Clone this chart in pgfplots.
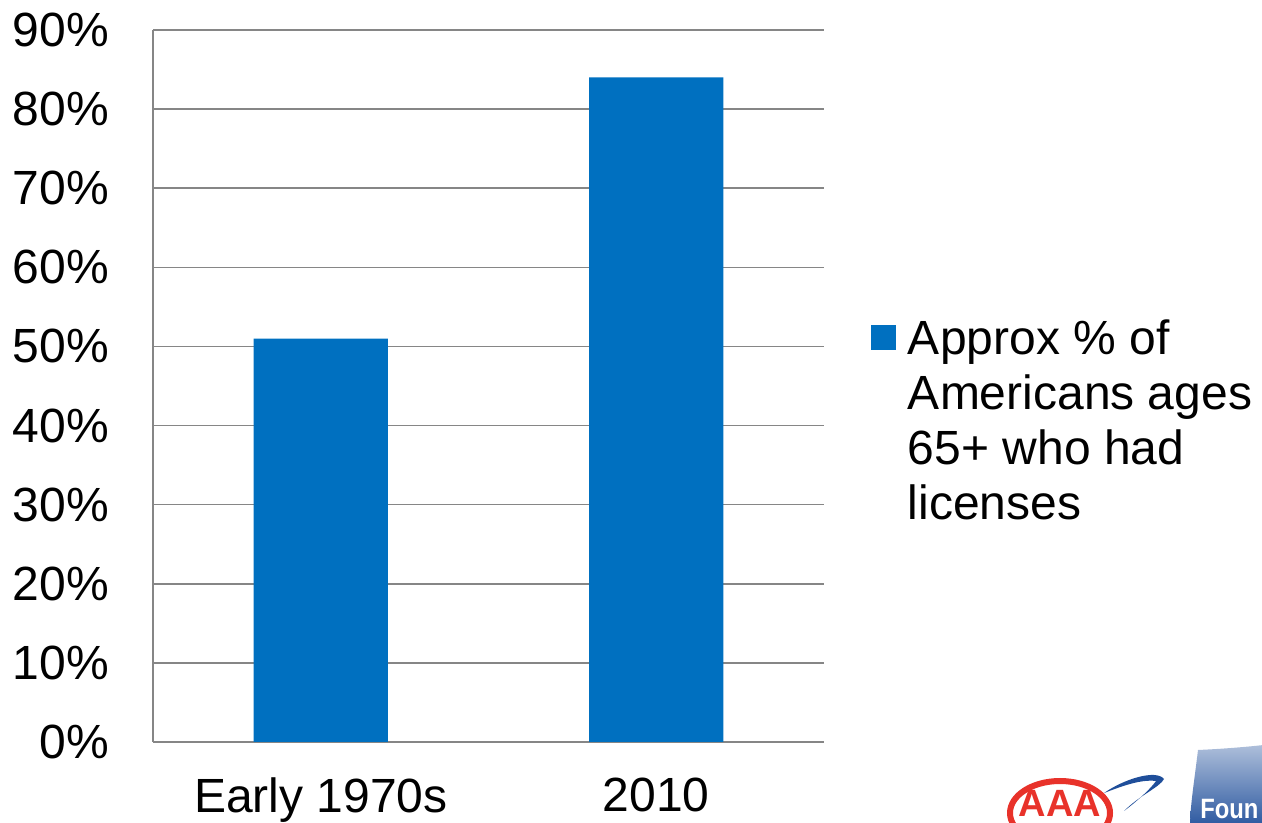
\documentclass[border=0pt]{standalone}
\usepackage{fontspec}
\setmainfont{Liberation Sans}
\usepackage{pgfplots}
\pgfplotsset{compat=1.18}
\definecolor{barblue}{HTML}{0070C0}
\definecolor{gridgray}{HTML}{868686}
\definecolor{aaared}{HTML}{E8322A}
\definecolor{aaablue}{HTML}{1F4E9A}
\begin{document}
\begin{tikzpicture}[x=1pt,y=1pt]
\useasboundingbox (0,0) rectangle (631,411.5);
\begin{axis}[
  at={(76.5pt,40.5pt)}, anchor=south west,
  width=335.5pt, height=356pt, scale only axis,
  xmin=-0.5, xmax=1.5, ymin=0, ymax=90,
  xtick={0,1}, xticklabels={Early 1970s,2010},
  ytick={0,10,...,90},
  yticklabels={0\%,10\%,20\%,30\%,40\%,50\%,60\%,70\%,80\%,90\%},
  major tick length=0pt,
  ticklabel style={font=\fontsize{24}{27.6}\selectfont},
  yticklabel style={xshift=-18.5pt},
  xticklabel style={yshift=-14.5pt},
  axis x line*=bottom, axis y line*=left,
  axis line style={draw=gridgray, line width=0.75pt, -},
  ymajorgrids, grid style={draw=gridgray, line width=0.75pt},
  bar width=0.4, ybar,
  legend cell align=left,
  legend image code/.code={\fill[#1] (0pt,2pt) rectangle (12.5pt,14.5pt);},
  legend style={draw=none, fill=none, inner sep=0pt, outer sep=0pt,
    column sep=0pt, cells={anchor=base west}, nodes={inner sep=0pt},
    font=\fontsize{24}{27.5}\selectfont,
    at={(axis description cs:1.07,0.599)}, anchor=north west},
]
\addplot[fill=barblue, draw=none] coordinates {(0,51) (1,84)};
\addlegendentry{\begin{tabular}[t]{@{\hspace{6pt}}l@{}}Approx \% of\\Americans ages\\65+ who had\\licenses\end{tabular}}
\end{axis}
% logo approximation (bottom right)
\begin{scope}
\clip (0,0) rectangle (631,411.5);
\shade[top color=aaablue!35, bottom color=aaablue!95] (599,36.5) .. controls (597,20) and (595,8) .. (595,-2) -- (640,-2) -- (640,40) .. controls (625,38) and (610,37) .. (599,36.5) -- cycle;
\node[text=white, font=\bfseries\fontsize{14}{14}\selectfont, anchor=base west, inner sep=0pt, xscale=0.85] at (600,2) {Foun};
\fill[aaablue] (552,15) .. controls (562,22) and (578,27) .. (582,22) .. controls (580,18) and (570,14) .. (562,6) .. controls (570,12) and (576,18) .. (578,21) .. controls (570,22) and (560,18) .. (552,15) -- cycle;
\draw[aaared, line width=3pt] (530,5) ellipse (25pt and 16pt);
\node[text=aaared, font=\bfseries\fontsize{19}{19}\selectfont, anchor=base, inner sep=0pt] at (530,3) {AAA};
\end{scope}
\end{tikzpicture}
\end{document}
